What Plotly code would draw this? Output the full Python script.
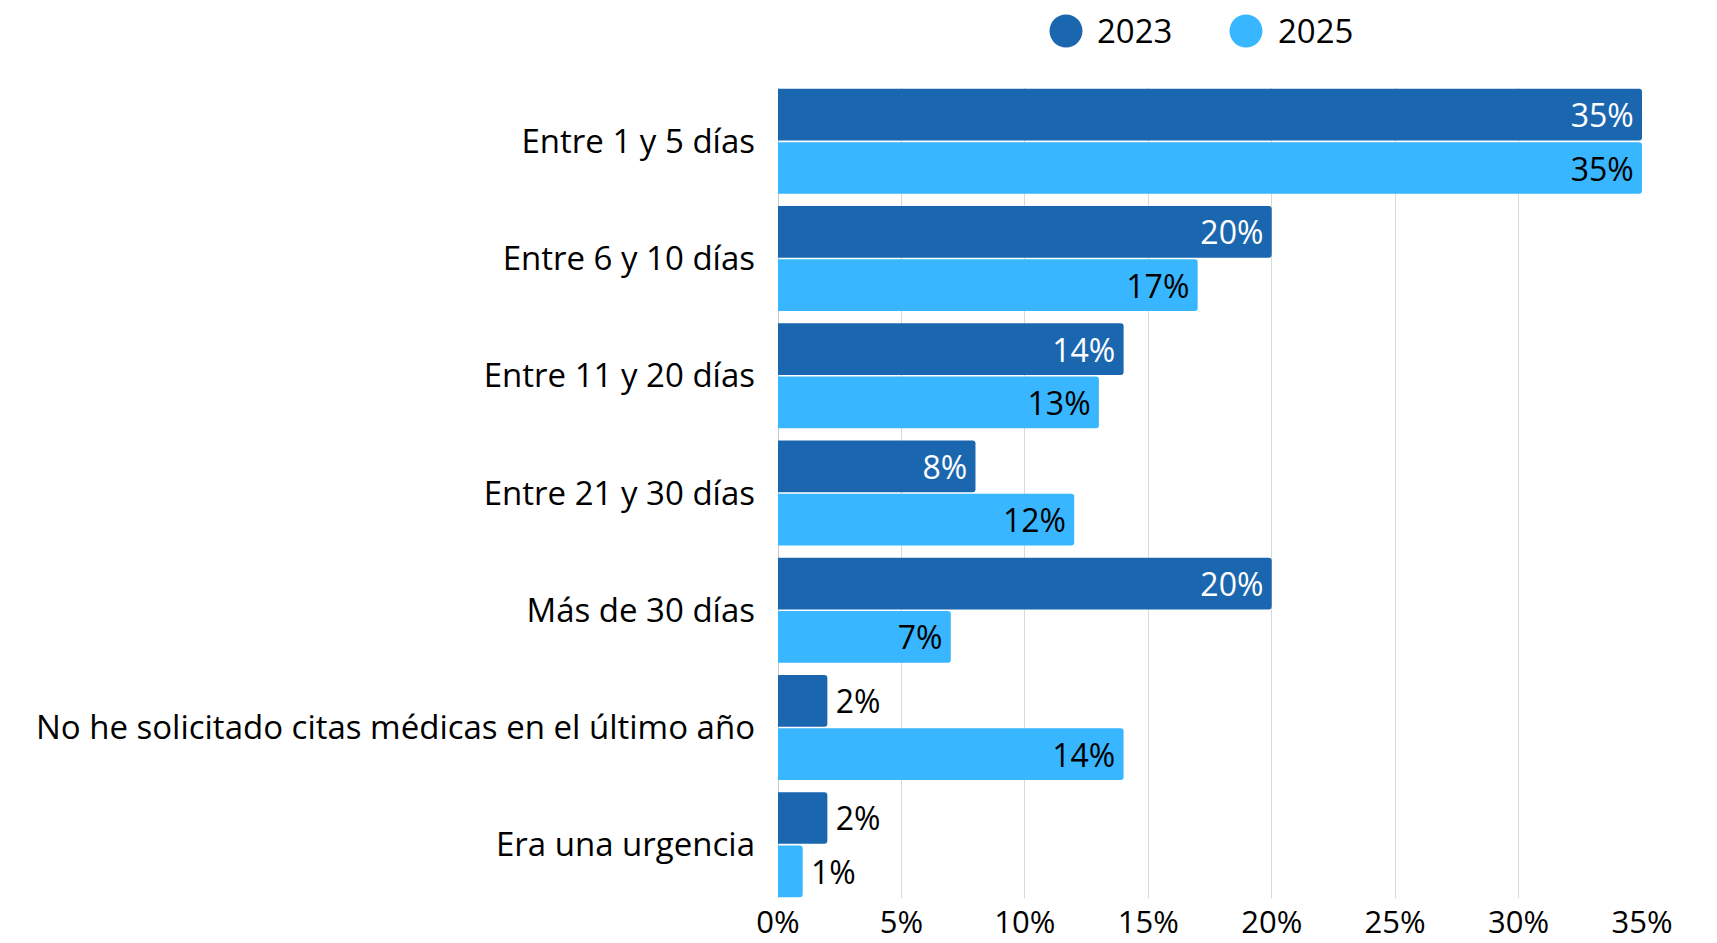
import plotly.graph_objects as go

categories = ["Entre 1 y 5 días", "Entre 6 y 10 días", "Entre 11 y 20 días",
              "Entre 21 y 30 días", "Más de 30 días",
              "No he solicitado citas médicas en el último año", "Era una urgencia"]
v2023 = [0.35, 0.20, 0.14, 0.08, 0.20, 0.02, 0.02]
v2025 = [0.35, 0.17, 0.13, 0.12, 0.07, 0.14, 0.01]
series_names = ["2023", "2025"]
x_ticks = [0, 0.05, 0.10, 0.15, 0.20, 0.25, 0.30, 0.35]
x_ticklabels = ["0%", "5%", "10%", "15%", "20%", "25%", "30%", "35%"]

C2023 = "#1B67AF"
C2025 = "#38B6FF"
FONT = "Open Sans"
FS_CAT = 33
FS_VAL = 32
FS_TICK = 31
FS_LEG = 33
BARGAP = 0.09
THIN = "\u2009"

def positions(vals):
    return ["inside" if v >= 0.05 else "outside" for v in vals]

def templates(vals):
    # small extra padding between bar end and label
    return ["%{text}" + THIN if v >= 0.05 else THIN + "%{text}" for v in vals]

fig = go.Figure()
for name, vals, color, intext in [(series_names[0], v2023, C2023, "white"),
                                  (series_names[1], v2025, C2025, "black")]:
    fig.add_trace(go.Bar(
        y=categories, x=vals, orientation="h", name=name,
        marker=dict(color=color, line=dict(width=0)),
        text=[f"{round(v*100)}%" for v in vals],
        texttemplate=templates(vals),
        textposition=positions(vals),
        insidetextanchor="end",
        insidetextfont=dict(color=intext, size=FS_VAL, family=FONT),
        outsidetextfont=dict(color="black", size=FS_VAL, family=FONT),
        cliponaxis=False,
        showlegend=False,
        hoverinfo="x+y+name",
    ))

# page offset of the plot div (body margin)
OFF = 8
W, H = 1717, 943
# target pixel positions in the screenshot
PL, PR, PT, PB = 778, 1642, 88, 898
ML = PL - OFF
MT = PT - OFF
MR = W - PR + OFF
MB = H - PB + OFF
pw = W - ML - MR
ph = H - MT - MB

leg = [(series_names[0], C2023, 1066, 1095), (series_names[1], C2025, 1246, 1276)]
LEG_Y = 31
shapes = []
annotations = []
for name, color, cx, tx in leg:
    xp = (cx - PL) / pw
    yp = (PB - LEG_Y) / ph
    shapes.append(dict(type="circle", xref="paper", yref="paper",
                       xsizemode="pixel", ysizemode="pixel",
                       xanchor=xp, yanchor=yp, x0=-16.5, x1=16.5, y0=-16.5, y1=16.5,
                       fillcolor=color, line=dict(width=0)))
    annotations.append(dict(text=name, xref="paper", yref="paper",
                            x=(tx - PL) / pw, y=yp, xanchor="left", yanchor="middle",
                            showarrow=False, font=dict(size=FS_LEG, family=FONT, color="black")))

n = len(categories)
fig.update_layout(
    width=W, height=H,
    margin=dict(l=ML, r=MR, t=MT, b=MB),
    paper_bgcolor="white", plot_bgcolor="white",
    barmode="group", bargap=BARGAP, bargroupgap=0.03,
    barcornerradius=3,
    font=dict(family=FONT, size=FS_CAT, color="black"),
    shapes=shapes, annotations=annotations,
    uniformtext=dict(minsize=FS_VAL, mode="show"),
    xaxis=dict(range=[0, 0.35], tickvals=x_ticks, ticktext=x_ticklabels,
               automargin=False, ticklabelstandoff=3,
               showgrid=True, gridcolor="#d9d9d9", gridwidth=1,
               zeroline=True, zerolinecolor="#c8c8c8", zerolinewidth=1,
               showline=False, ticks="", tickfont=dict(size=FS_TICK, family=FONT)),
    yaxis=dict(range=[n - 0.5 - BARGAP / 2, -0.5 + BARGAP / 2],
               showgrid=False, showline=False, ticks="",
               automargin=False,
               ticklabelstandoff=22, tickfont=dict(size=FS_CAT, family=FONT)),
)

fig.write_html("out.html")
